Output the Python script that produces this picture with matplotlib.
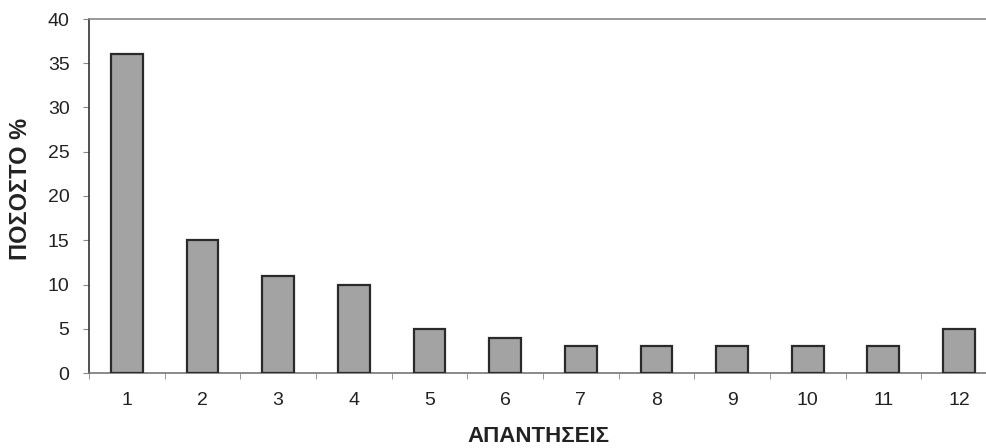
import matplotlib.pyplot as plt
import numpy as np

plt.rcParams['font.family'] = ['Liberation Sans', 'DejaVu Sans']

# Datos
apantiseis = [1, 2, 3, 4, 5, 6, 7, 8, 9, 10, 11, 12]
pososto = [36, 15, 11, 10, 5, 4, 3, 3, 3, 3, 3, 5]
y_ticks = [0, 5, 10, 15, 20, 25, 30, 35, 40]

fig = plt.figure(figsize=(9.87, 4.48), dpi=100)
ax = fig.add_axes([89 / 987, 1 - 373 / 448, (987 - 89) / 987, (373 - 19) / 448])

ax.bar(apantiseis, pososto, width=0.42, color='#a3a3a3',
       edgecolor='#2a2a2a', linewidth=1.6, zorder=3)

ax.set_xlim(0.5, 12.37)
ax.set_ylim(0, 40)
ax.set_yticks(y_ticks)
ax.set_xticks(apantiseis)
ax.set_xticks(np.arange(0.5, 12.5, 1), minor=True)
ax.tick_params(axis='x', which='major', length=0, pad=14, labelsize=14, labelcolor='#222222')
ax.tick_params(axis='x', which='minor', length=4, color='#888888', direction='out')
ax.tick_params(axis='y', length=4, color='#888888', labelsize=14, labelcolor='#222222', pad=10)

ax.spines['right'].set_visible(False)
ax.spines['top'].set_color('#888888')
ax.spines['top'].set_linewidth(1.2)
ax.spines['left'].set_color('#333333')
ax.spines['left'].set_linewidth(1.2)
ax.spines['bottom'].set_color('#777777')
ax.spines['bottom'].set_linewidth(1.2)

ax.set_ylabel("ΠΟΣΟΣΤΟ %", fontsize=17, fontweight='bold', color='#222222')
ax.yaxis.set_label_coords(-0.063, 0.52)
ax.set_xlabel("ΑΠΑΝΤΗΣΕΙΣ", fontsize=16, fontweight='bold', color='#222222', labelpad=12)

fig.savefig("out.png", dpi=100)
